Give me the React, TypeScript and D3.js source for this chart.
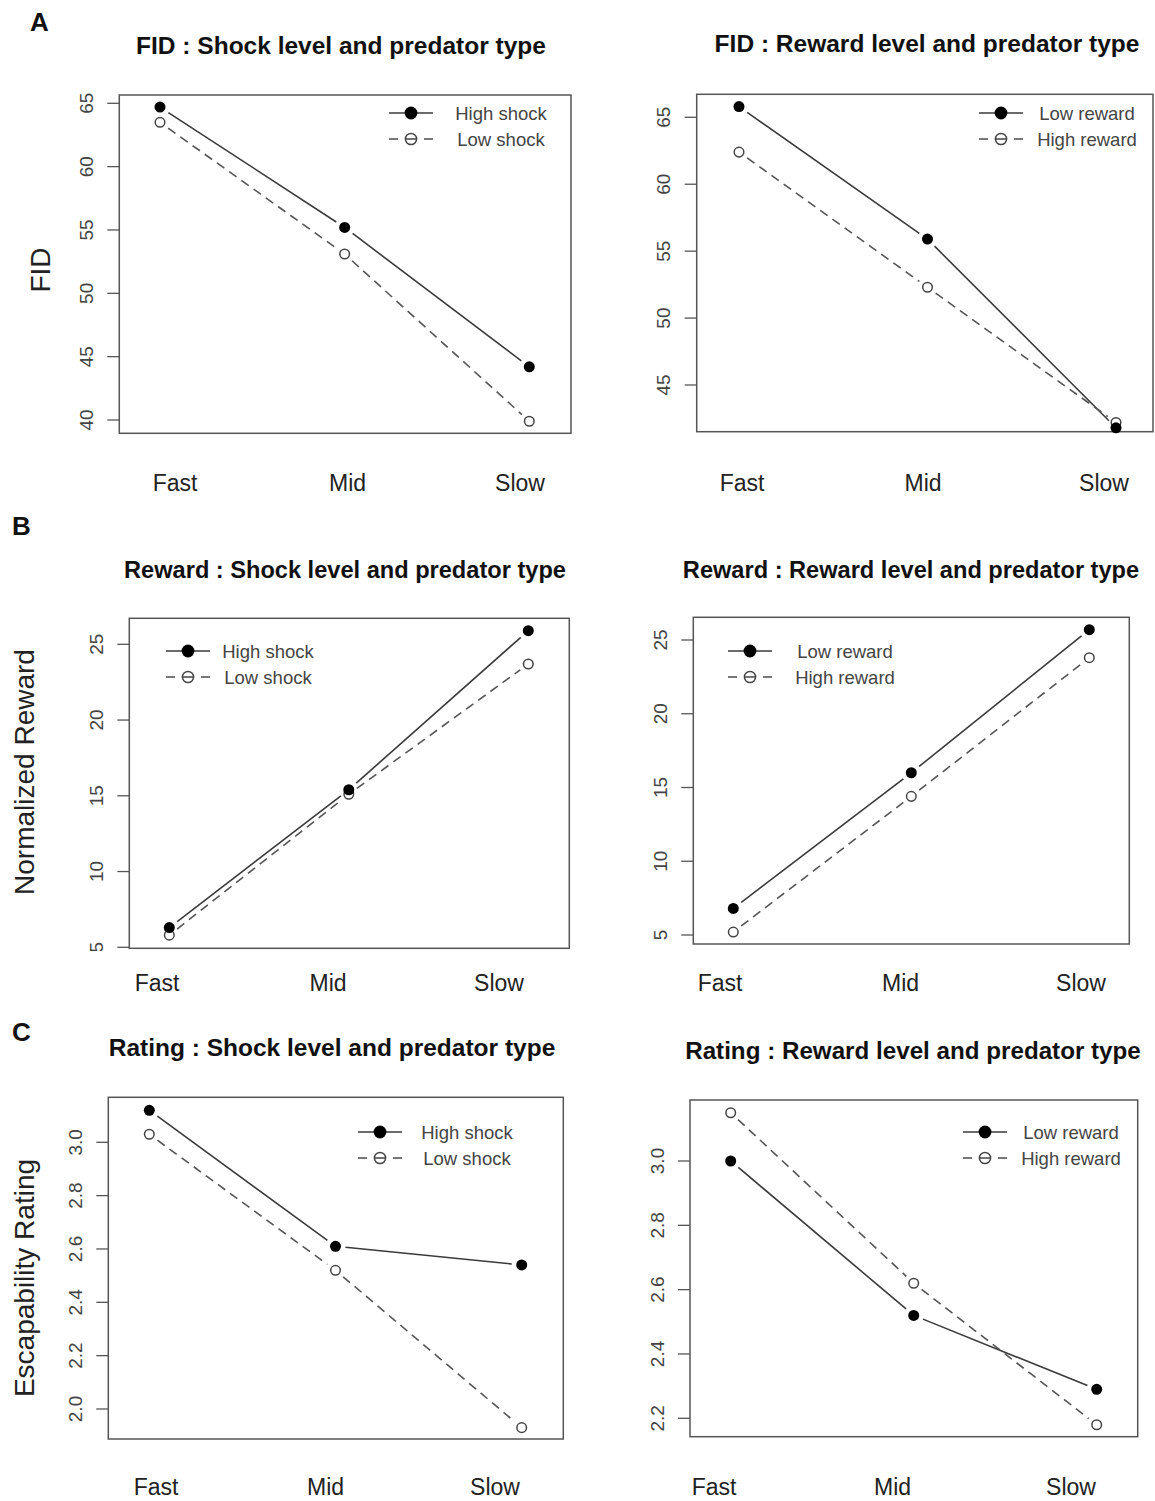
import React from "react";
import * as d3 from "d3";

const categories = ["Fast", "Mid", "Slow"];

// Panel A
const fidShockHigh = [64.7, 55.2, 44.2];
const fidShockLow = [63.5, 53.1, 39.9];
const fidRewardLow = [65.8, 55.9, 41.8];
const fidRewardHigh = [62.4, 52.3, 42.2];
// Panel B
const rewShockHigh = [6.3, 15.4, 25.9];
const rewShockLow = [5.8, 15.1, 23.7];
const rewRewardLow = [6.8, 16.0, 25.7];
const rewRewardHigh = [5.2, 14.4, 23.8];
// Panel C
const ratShockHigh = [3.12, 2.61, 2.54];
const ratShockLow = [3.03, 2.52, 1.93];
const ratRewardLow = [3.0, 2.52, 2.29];
const ratRewardHigh = [3.15, 2.62, 2.18];

const fidShockTicks = [40, 45, 50, 55, 60, 65];
const fidRewardTicks = [45, 50, 55, 60, 65];
const rewardTicks = [5, 10, 15, 20, 25];
const ratShockTicks = [2.0, 2.2, 2.4, 2.6, 2.8, 3.0];
const ratRewardTicks = [2.2, 2.4, 2.6, 2.8, 3.0];

const shockNames = ["High shock", "Low shock"];
const rewardNames = ["Low reward", "High reward"];

const TXT = "#444";
const LINE = "#3a3a3a";
const SANS = "'Liberation Sans', Arial, Helvetica, sans-serif";

type Cfg = {
  id: string;
  title: string;
  titleX: number;
  titleY: number;
  titleSize: number;
  box: { l: number; t: number; r: number; b: number };
  xr: [number, number];
  yDom: [number, number];
  yRange: [number, number];
  ticks: number[];
  fmt: (v: number) => string;
  solid: number[];
  dashed: number[];
  names: string[];
  leg: { x: number; y: number; tx: number };
  labX: [number, number];
  labY: number;
  clipBottom?: number;
};

const panels: Cfg[] = [
  {
    id: "a1", title: "FID : Shock level and predator type", titleX: 341, titleY: 54, titleSize: 24.5,
    box: { l: 119.3, t: 95, r: 571, b: 433.3 }, xr: [160, 529.3],
    yDom: [40, 65], yRange: [420, 103.3], ticks: fidShockTicks, fmt: d3.format("d"),
    solid: fidShockHigh, dashed: fidShockLow, names: shockNames,
    leg: { x: 411, y: 113, tx: 501 }, labX: [175, 520], labY: 491,
  },
  {
    id: "a2", title: "FID : Reward level and predator type", titleX: 927, titleY: 52, titleSize: 24.5,
    box: { l: 696.7, t: 94.3, r: 1153, b: 431.7 }, xr: [739, 1116],
    yDom: [45, 65], yRange: [385, 117.3], ticks: fidRewardTicks, fmt: d3.format("d"),
    solid: fidRewardLow, dashed: fidRewardHigh, names: rewardNames,
    leg: { x: 1001, y: 113, tx: 1087 }, labX: [742, 1104], labY: 491,
  },
  {
    id: "b1", title: "Reward : Shock level and predator type", titleX: 345, titleY: 578, titleSize: 23.6,
    box: { l: 129.3, t: 618.3, r: 569.3, b: 948.3 }, xr: [169.3, 528.3],
    yDom: [5, 25], yRange: [947.3, 644.3], ticks: rewardTicks, fmt: d3.format("d"),
    solid: rewShockHigh, dashed: rewShockLow, names: shockNames,
    leg: { x: 188, y: 651, tx: 268 }, labX: [157, 499], labY: 991, clipBottom: 951,
  },
  {
    id: "b2", title: "Reward : Reward level and predator type", titleX: 911, titleY: 578, titleSize: 23.6,
    box: { l: 693.3, t: 617.3, r: 1129.3, b: 944 }, xr: [733.3, 1089.3],
    yDom: [5, 25], yRange: [935, 640], ticks: rewardTicks, fmt: d3.format("d"),
    solid: rewRewardLow, dashed: rewRewardHigh, names: rewardNames,
    leg: { x: 750, y: 651, tx: 845 }, labX: [720, 1081], labY: 991,
  },
  {
    id: "c1", title: "Rating : Shock level and predator type", titleX: 332, titleY: 1056, titleSize: 24.5,
    box: { l: 108.3, t: 1097.3, r: 563.3, b: 1439 }, xr: [149.3, 521.7],
    yDom: [2.0, 3.0], yRange: [1409, 1142.3], ticks: ratShockTicks, fmt: d3.format(".1f"),
    solid: ratShockHigh, dashed: ratShockLow, names: shockNames,
    leg: { x: 380, y: 1132, tx: 467 }, labX: [156, 495], labY: 1495,
  },
  {
    id: "c2", title: "Rating : Reward level and predator type", titleX: 913, titleY: 1059, titleSize: 24.2,
    box: { l: 690, t: 1100, r: 1137.7, b: 1436.7 }, xr: [730.7, 1096.7],
    yDom: [2.2, 3.0], yRange: [1418.3, 1161], ticks: ratRewardTicks, fmt: d3.format(".1f"),
    solid: ratRewardLow, dashed: ratRewardHigh, names: rewardNames,
    leg: { x: 985, y: 1132, tx: 1071 }, labX: [714, 1071], labY: 1495,
  },
];

const GAP = 10;

function gapSegments(pts: [number, number][]) {
  const segs: [number, number, number, number][] = [];
  for (let i = 0; i < pts.length - 1; i++) {
    const [x0, y0] = pts[i];
    const [x1, y1] = pts[i + 1];
    const dx = x1 - x0, dy = y1 - y0;
    const len = Math.hypot(dx, dy);
    const ux = dx / len, uy = dy / len;
    segs.push([x0 + ux * GAP, y0 + uy * GAP, x1 - ux * GAP, y1 - uy * GAP]);
  }
  return segs;
}

function Panel({ c }: { c: Cfg }) {
  const x = d3.scalePoint<string>().domain(categories).range(c.xr).padding(0);
  const xl = d3.scalePoint<string>().domain(categories).range(c.labX).padding(0);
  const y = d3.scaleLinear().domain(c.yDom).range(c.yRange);
  const sPts = c.solid.map((v, i) => [x(categories[i])!, y(v)] as [number, number]);
  const dPts = c.dashed.map((v, i) => [x(categories[i])!, y(v)] as [number, number]);
  const { l, t, r, b } = c.box;
  const clipId = `clip-${c.id}`;
  const lx = c.leg.x, ly = c.leg.y;
  return (
    <g>
      {c.clipBottom ? (
        <defs>
          <clipPath id={clipId}>
            <rect x={0} y={0} width={1155} height={c.clipBottom} />
          </clipPath>
        </defs>
      ) : null}
      <text x={c.titleX} y={c.titleY} textAnchor="middle" fontFamily={SANS} fontWeight="bold" fontSize={c.titleSize} fill="#111">
        {c.title}
      </text>
      <rect x={l} y={t} width={r - l} height={b - t} fill="none" stroke="#555" strokeWidth={1.5} />
      {/* y ticks */}
      <g clipPath={c.clipBottom ? `url(#${clipId})` : undefined}>
        {c.ticks.map((v) => (
          <g key={v}>
            <line x1={l - 12} x2={l} y1={y(v)} y2={y(v)} stroke="#555" strokeWidth={1.3} />
            <text
              transform={`translate(${l - 33},${y(v)}) rotate(-90)`}
              textAnchor="middle"
              dominantBaseline="central"
              fontFamily={SANS}
              fontSize={19}
              fill={TXT}
            >
              {c.fmt(v)}
            </text>
          </g>
        ))}
      </g>
      {/* lines */}
      {gapSegments(sPts).map((s, i) => (
        <line key={"s" + i} x1={s[0]} y1={s[1]} x2={s[2]} y2={s[3]} stroke={LINE} strokeWidth={1.6} />
      ))}
      {gapSegments(dPts).map((s, i) => (
        <line key={"d" + i} x1={s[0]} y1={s[1]} x2={s[2]} y2={s[3]} stroke="#555" strokeWidth={1.6} strokeDasharray="9,6" />
      ))}
      {dPts.map((p, i) => (
        <circle key={"dc" + i} cx={p[0]} cy={p[1]} r={4.8} fill="white" stroke="#444" strokeWidth={1.5} />
      ))}
      {sPts.map((p, i) => (
        <circle key={"sc" + i} cx={p[0]} cy={p[1]} r={5.5} fill="#000" />
      ))}
      {/* x labels */}
      {categories.map((cat) => (
        <text key={cat} x={xl(cat)} y={c.labY} textAnchor="middle" fontFamily={SANS} fontSize={23} fill="#222">
          {cat}
        </text>
      ))}
      {/* legend */}
      <g>
        <line x1={lx - 22} x2={lx + 22} y1={ly} y2={ly} stroke={LINE} strokeWidth={1.6} />
        <circle cx={lx} cy={ly} r={6.4} fill="#000" />
        <text x={c.leg.tx} y={ly} textAnchor="middle" dominantBaseline="central" fontFamily={SANS} fontSize={18.5} fill={TXT}>
          {c.names[0]}
        </text>
        <line x1={lx - 22} x2={lx - 13} y1={ly + 26} y2={ly + 26} stroke="#555" strokeWidth={1.6} />
        <line x1={lx + 13} x2={lx + 22} y1={ly + 26} y2={ly + 26} stroke="#555" strokeWidth={1.6} />
        <circle cx={lx} cy={ly + 26} r={5.6} fill="white" stroke="#444" strokeWidth={1.5} />
        <line x1={lx - 5.6} x2={lx + 5.6} y1={ly + 26} y2={ly + 26} stroke="#444" strokeWidth={1.5} />
        <text x={c.leg.tx} y={ly + 26} textAnchor="middle" dominantBaseline="central" fontFamily={SANS} fontSize={18.5} fill={TXT}>
          {c.names[1]}
        </text>
      </g>
    </g>
  );
}

const letters = [
  { t: "A", x: 30, y: 31 },
  { t: "B", x: 12, y: 535 },
  { t: "C", x: 12, y: 1041 },
];
const yTitles = [
  { t: "FID", x: 40, y: 270 },
  { t: "Normalized Reward", x: 24, y: 772 },
  { t: "Escapability Rating", x: 24, y: 1278 },
];

export default function App() {
  return (
    <svg
      width={1155}
      height={1501}
      viewBox="0 0 1155 1501"
      style={{ position: "absolute", left: 0, top: 0, background: "#fff" }}
    >
      <rect x={0} y={0} width={1155} height={1501} fill="#fff" />
      {letters.map((l) => (
        <text key={l.t} x={l.x} y={l.y} fontFamily={SANS} fontWeight="bold" fontSize={26} fill="#111">
          {l.t}
        </text>
      ))}
      {yTitles.map((t) => (
        <text
          key={t.t}
          transform={`translate(${t.x},${t.y}) rotate(-90)`}
          textAnchor="middle"
          dominantBaseline="central"
          fontFamily={SANS}
          fontSize={28}
          fill="#222"
        >
          {t.t}
        </text>
      ))}
      {panels.map((p) => (
        <Panel key={p.id} c={p} />
      ))}
    </svg>
  );
}
